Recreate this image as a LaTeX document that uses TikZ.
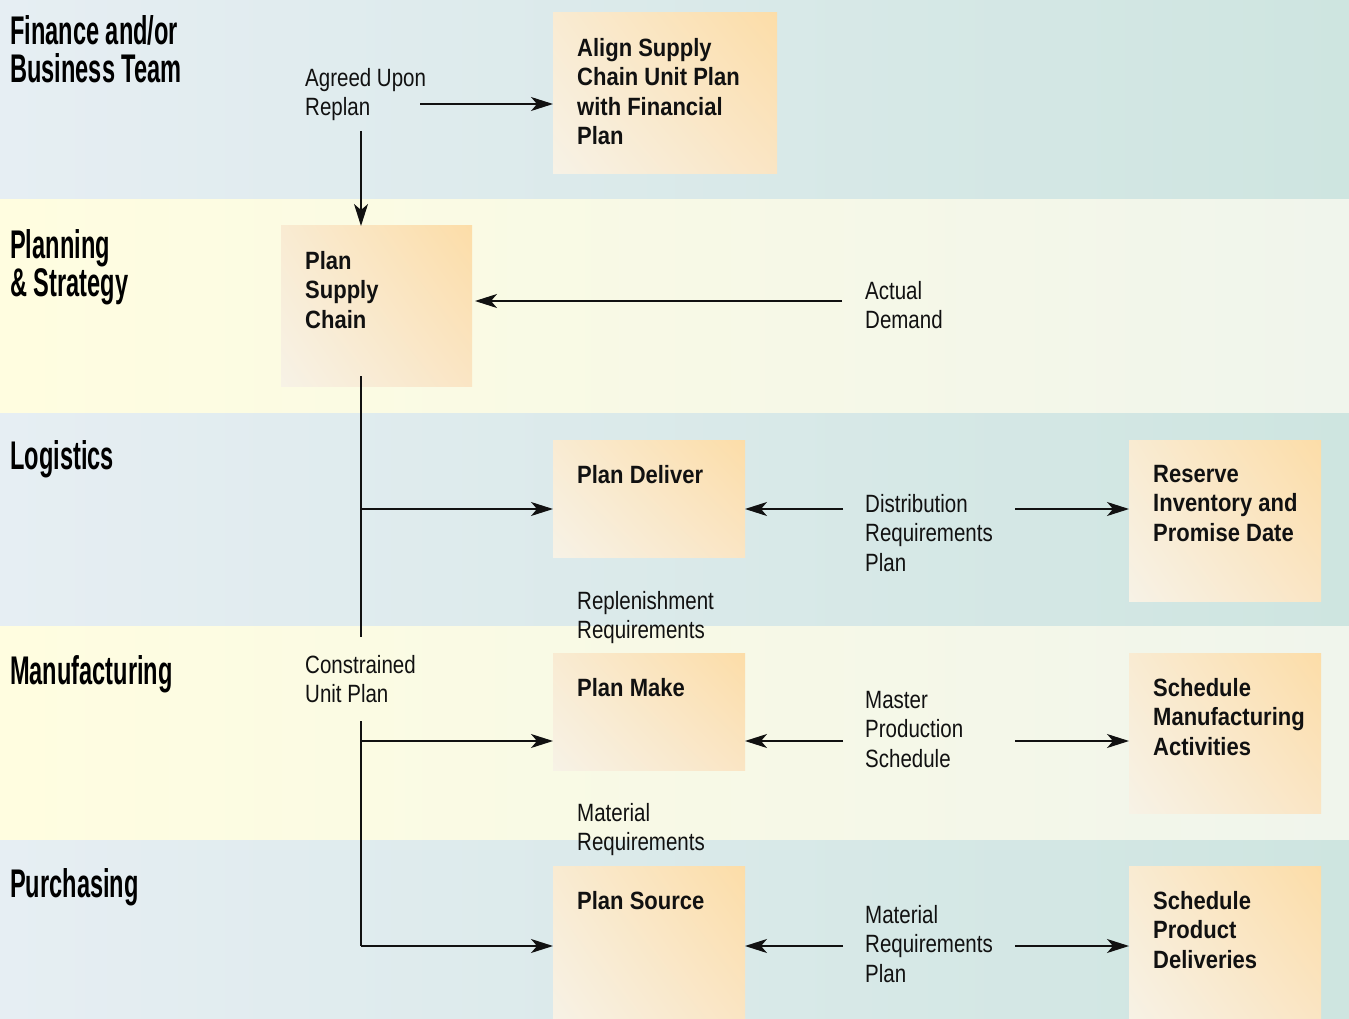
\documentclass[tikz,border=0pt]{standalone}
\usepackage{fontspec}
\setmainfont{Liberation Sans}
\newfontfamily\titlefont[FakeStretch=0.59]{Liberation Sans}
\newfontfamily\labelfont[FakeStretch=0.82]{Liberation Sans}
\newfontfamily\boxfont[FakeStretch=0.88]{Liberation Sans}
\usetikzlibrary{arrows.meta,shadings}
\definecolor{finL}{HTML}{E6EEF3}
\definecolor{finR}{HTML}{CEE5E0}
\definecolor{plnL}{HTML}{FFFDE0}
\definecolor{plnR}{HTML}{F0F5EC}
\definecolor{boxUR}{HTML}{FCDDA8}
\definecolor{boxUL}{HTML}{F9EBD2}
\definecolor{boxLL}{HTML}{F7F2E6}
\definecolor{boxLR}{HTML}{FAE5C4}
\definecolor{ink}{HTML}{111111}
\begin{document}
\begin{tikzpicture}[x=1pt,y=-1pt,
  procbox/.style={rectangle, inner sep=0pt, outer sep=0pt, anchor=north west, shade,
    upper right=boxUR, upper left=boxUL, lower left=boxLL, lower right=boxLR},
  boxtxt/.style={anchor=north west, inner sep=0pt, align=left, text=ink,
    font=\boxfont\bfseries\fontsize{25}{29.5}\selectfont},
  lbl/.style={anchor=north west, inner sep=0pt, align=left, text=ink,
    font=\labelfont\fontsize{25}{29.5}\selectfont},
  ttl/.style={anchor=north west, inner sep=0pt, align=left, text=black,
    font=\titlefont\bfseries\fontsize{40}{38}\selectfont},
  conn/.style={draw=ink, line width=1.4pt},
  arr/.style={conn, -{Stealth[length=22pt,width=14pt,inset=6pt]}}
]
\useasboundingbox (0,0) rectangle (1349,1019);
% bands
\shade[left color=finL, right color=finR] (0,0) rectangle (1349,200);
\shade[left color=plnL, right color=plnR] (0,200) rectangle (1349,413);
\shade[left color=finL, right color=finR] (0,413) rectangle (1349,626);
\shade[left color=plnL, right color=plnR] (0,626) rectangle (1349,840);
\shade[left color=finL, right color=finR] (0,840) rectangle (1349,1019);

% titles
\node[ttl] (tfin) at (10,15) {Finance and/or\\Business Team};
\node[ttl] (tpln) at (10,229) {Planning\\\& Strategy};
\node[ttl] (tlog) at (10,440) {Logistics};
\node[ttl] (tman) at (10,655) {Manufacturing};
\node[ttl] (tpur) at (10,868) {Purchasing};

% boxes
\node[procbox, minimum width=224pt, minimum height=161pt] (align) at (553,13) {};
\node[procbox, minimum width=191pt, minimum height=160pt] (psc) at (281,226) {};
\node[procbox, minimum width=192pt, minimum height=117pt] (pdel) at (553,440) {};
\node[procbox, minimum width=192pt, minimum height=161pt] (resv) at (1129,440) {};
\node[procbox, minimum width=192pt, minimum height=117pt] (pmak) at (553,653) {};
\node[procbox, minimum width=192pt, minimum height=160pt] (smfg) at (1129,653) {};
\node[procbox, minimum width=192pt, minimum height=160pt] (psrc) at (553,866) {};
\node[procbox, minimum width=192pt, minimum height=160pt] (sprd) at (1129,866) {};

% box texts
\node[boxtxt] (align-t) at ([shift={(24,25)}]align.north west) {Align Supply\\Chain Unit Plan\\with Financial\\Plan};
\node[boxtxt] (psc-t) at ([shift={(24,25)}]psc.north west) {Plan\\Supply\\Chain};
\node[boxtxt] (pdel-t) at ([shift={(24,25)}]pdel.north west) {Plan Deliver};
\node[boxtxt] (resv-t) at ([shift={(24,25)}]resv.north west) {Reserve\\Inventory and\\Promise Date};
\node[boxtxt] (pmak-t) at ([shift={(24,25)}]pmak.north west) {Plan Make};
\node[boxtxt] (smfg-t) at ([shift={(24,25)}]smfg.north west) {Schedule\\Manufacturing\\Activities};
\node[boxtxt] (psrc-t) at ([shift={(24,25)}]psrc.north west) {Plan Source};
\node[boxtxt] (sprd-t) at ([shift={(24,25)}]sprd.north west) {Schedule\\Product\\Deliveries};

% labels
\node[lbl] (agr) at (305,68) {Agreed Upon\\Replan};
\node[lbl] (act) at (865,281) {Actual\\Demand};
\node[lbl] (dist) at (865,494) {Distribution\\Requirements\\Plan};
\node[lbl] (repl) at (577,591) {Replenishment\\Requirements};
\node[lbl] (cons) at (305,655) {Constrained\\Unit Plan};
\node[lbl] (mast) at (865,691) {Master\\Production\\Schedule};
\node[lbl] (matr) at (577,803) {Material\\Requirements};
\node[lbl] (mrp) at (865,905) {Material\\Requirements\\Plan};

% connector ends
\coordinate (agr-e) at (420,104);
\coordinate (agr-s) at (361,131);
\coordinate (act-w) at (842,301);
\coordinate (psc-out) at (361,376);
\coordinate (cons-n) at (361,637);
\coordinate (cons-s) at (361,721);
\coordinate (jdel) at (361,509);
\coordinate (jmak) at (361,741);
\coordinate (jsrc) at (361,946);
\coordinate (dist-w) at (843,509);
\coordinate (dist-e) at (1015,509);
\coordinate (mast-w) at (843,741);
\coordinate (mast-e) at (1015,741);
\coordinate (mrp-w) at (843,946);
\coordinate (mrp-e) at (1015,946);

% connectors
\draw[arr] (agr-e) -- (align.west |- agr-e);
\draw[arr] (agr-s) -- (psc.north -| agr-s);
\draw[arr] (act-w) -- ([xshift=3pt]psc.east |- act-w);
\draw[conn] (psc-out) -- (cons-n);
\draw[arr] (jdel) -- (pdel.west |- jdel);
\draw[conn] (cons-s) -- (jsrc);
\draw[arr] (jmak) -- (pmak.west |- jmak);
\draw[arr] (jsrc) -- (psrc.west |- jsrc);
\draw[arr] (dist-w) -- (pdel.east |- dist-w);
\draw[arr] (dist-e) -- (resv.west |- dist-e);
\draw[arr] (mast-w) -- (pmak.east |- mast-w);
\draw[arr] (mast-e) -- (smfg.west |- mast-e);
\draw[arr] (mrp-w) -- (psrc.east |- mrp-w);
\draw[arr] (mrp-e) -- (sprd.west |- mrp-e);
\end{tikzpicture}
\end{document}
